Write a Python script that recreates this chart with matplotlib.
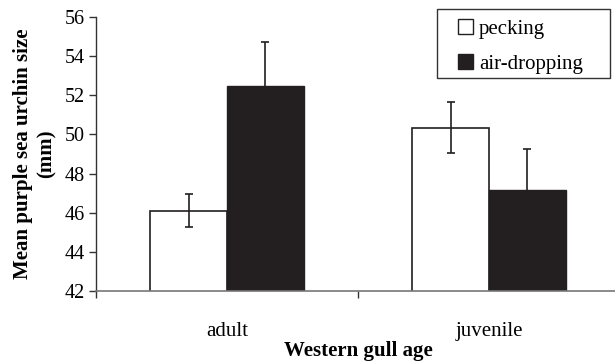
import matplotlib
matplotlib.use("Agg")
import matplotlib.pyplot as plt
import numpy as np
from matplotlib.patches import Patch, Rectangle

categories = ["adult", "juvenile"]
series_names = ["pecking", "air-dropping"]
pecking = [46.1, 50.35]
pecking_err = [0.85, 1.3]
airdrop = [52.45, 47.15]
airdrop_err = [2.25, 2.1]
yticks = [42, 44, 46, 48, 50, 52, 54, 56]

plt.rcParams['font.family'] = ['Liberation Serif', 'DejaVu Serif']

fig = plt.figure(figsize=(6.15, 3.63), dpi=100)
ax = fig.add_axes([96/615, 1-291/363, 524/615, 274/363])

x = np.arange(len(categories))
w = 0.292
ink = "#231f20"
ax.bar(x - w/2, pecking, width=w, color="white", edgecolor=ink, linewidth=1.2, zorder=2)
ax.errorbar(x - w/2, pecking, yerr=pecking_err, fmt="none", ecolor=ink, elinewidth=1.2, capsize=3, capthick=1.2, zorder=3)
ax.bar(x + w/2, airdrop, width=w, color=ink, edgecolor=ink, linewidth=1.0, zorder=2)
ax.errorbar(x + w/2, airdrop, yerr=airdrop_err, fmt="none", ecolor=ink, elinewidth=1.2, capsize=3, capthick=1.2, zorder=1)

ax.set_ylim(42, 56)
ax.set_xlim(-0.5, 1.5)
ax.set_yticks(yticks)
ax.set_yticklabels([str(t) for t in yticks], fontsize=14.5)
ax.tick_params(axis="y", direction="out", length=5, width=1, color="#333333", pad=3)
ax.set_xticks(x)
ax.set_xticklabels(categories, fontsize=15)
ax.tick_params(axis="x", which="major", length=0, pad=22)
ax.set_xticks([-0.5, 0.5, 1.5], minor=True)
ax.tick_params(axis="x", which="minor", direction="out", length=5, width=1, color="#333333")

for s in ["top", "right"]:
    ax.spines[s].set_visible(False)
ax.spines["left"].set_color("#333333")
ax.spines["bottom"].set_color("#777777")
ax.spines["left"].set_linewidth(1.0)
ax.spines["bottom"].set_linewidth(1.2)

ax.set_ylabel("Mean purple sea urchin size\n(mm)", fontsize=15, fontweight="bold", labelpad=6)
ax.set_xlabel("Western gull age", fontsize=15, fontweight="bold", labelpad=0)

handles = [Patch(facecolor="white", edgecolor=ink, linewidth=1.0),
           Patch(facecolor=ink, edgecolor=ink, linewidth=1.0)]
leg = fig.legend(handles, series_names, loc="center left",
                 bbox_to_anchor=(458/615, 1-46.5/363), fontsize=15,
                 frameon=False,
                 handlelength=0.7, handleheight=0.7, handletextpad=0.3,
                 borderpad=0, labelspacing=0.72, borderaxespad=0)
fig.add_artist(Rectangle((437/615, 1-78/363), 173/615, 69/363,
                         transform=fig.transFigure, fill=False,
                         edgecolor="#333333", linewidth=1.0))

fig.savefig("out.png", dpi=100)
